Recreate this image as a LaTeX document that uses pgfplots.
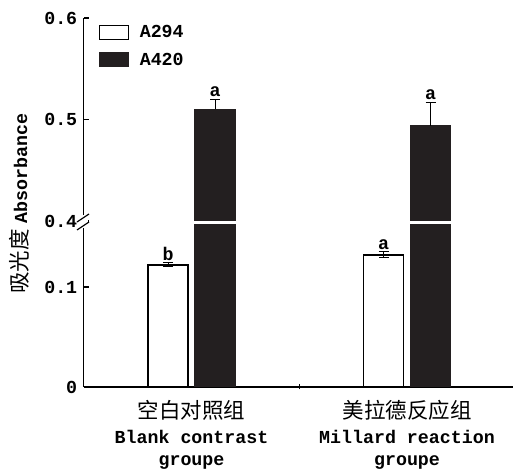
\documentclass[border=0pt]{standalone}
\usepackage{pgfplots}
\pgfplotsset{compat=1.18}
\usepackage{fontspec}
\setmainfont{Liberation Mono}
\newfontfamily\cjk{Noto Sans CJK SC}
\definecolor{barblack}{RGB}{35,31,32}

\newcommand{\lat}{\fontsize{18.3}{20}\selectfont\bfseries}
\newcommand{\han}{\cjk\fontsize{21.5}{24}\selectfont}

\pgfplotsset{
  brk/.style={
    scale only axis, width=431pt,
    xmin=-0.5, xmax=1.5,
    ybar, bar width=40pt,
    clip mode=individual,
    axis y line=left,
    tick align=inside, major tick length=5pt,
    tick style={line width=1.2pt, black},
    ticklabel style={font=\lat},
    /pgf/number format/assume math mode=true,
    yticklabel style={/pgf/number format/fixed, /pgf/number format/precision=1, xshift=-3pt},
    legend image code/.code={\draw[#1] (0pt,-7pt) rectangle (29pt,7pt); \path (38pt,0pt);},
  },
  whitebar/.style={draw=black, fill=white, line width=1.2pt, bar shift=-23.5pt,
    error bars/.cd, y dir=both, y explicit,
    error bar style={line width=1pt, black},
    error mark options={rotate=90, mark size=5pt, line width=1pt, black}},
  blackbar/.style={draw=barblack, fill=barblack, line width=1.2pt, bar shift=23.5pt,
    error bars/.cd, y dir=plus, y explicit,
    error bar style={line width=1pt, black},
    error mark options={rotate=90, mark size=5pt, line width=1pt, black}},
}

\begin{document}
\begin{tikzpicture}[x=1pt, y=1pt]
\useasboundingbox (0pt,0pt) rectangle (513pt,473pt);

% lower part, 0 to 0.162
\begin{axis}[brk,
  at={(83.75pt,86pt)}, anchor=south west, height=162pt,
  ymin=0, ymax=0.162,
  axis x line=bottom,
  xtick={0.5}, xticklabels={},
  ytick={0,0.1},
  axis line style={-, line width=1.2pt},
  x axis line style={-}, y axis line style={-},
]
\addplot+[whitebar] coordinates {(0,0.122) +- (0,0.002) (1,0.132) +- (0,0.003)};
\addplot+[blackbar] coordinates {(0,0.510) +- (0,0.010) (1,0.494) +- (0,0.023)};
\node[font=\lat, anchor=south, inner sep=2pt] at (axis cs:-0.109,0.124) {b};
\node[font=\lat, anchor=south, inner sep=2pt] at (axis cs:0.891,0.135) {a};
\node[font=\han] at (axis cs:0,0) [yshift=-23pt] {空白对照组};
\node[font=\lat] at (axis cs:0,0) [yshift=-50pt] {Blank contrast};
\node[font=\lat] at (axis cs:0,0) [yshift=-76pt] {groupe};
\node[font=\han] at (axis cs:1,0) [yshift=-23pt] {美拉德反应组};
\node[font=\lat] at (axis cs:1,0) [yshift=-50pt] {Millard reaction};
\node[font=\lat] at (axis cs:1,0) [yshift=-76pt] {groupe};
\end{axis}

% upper part, 0.4 to 0.6
\begin{axis}[brk,
  at={(83.75pt,252pt)}, anchor=south west, height=203pt,
  ymin=0.4, ymax=0.6,
  axis x line=none,
  xtick=\empty,
  ytick={0.4,0.5,0.6},
  axis line style={-, line width=1.2pt},
  y axis line style={-},
  legend style={draw=none, fill=none, font=\lat, at={(0.027,0.985)}, anchor=north west,
    row sep=10pt, legend cell align=left},
]
\addlegendimage{draw=black, fill=white, line width=1.2pt}
\addlegendentry{A294}
\addplot+[blackbar] coordinates {(0,0.510) +- (0,0.010) (1,0.494) +- (0,0.023)};
\addlegendentry{A420}
\node[font=\lat, anchor=south, inner sep=2pt] at (axis cs:0.109,0.520) {a};
\node[font=\lat, anchor=south, inner sep=2pt] at (axis cs:1.109,0.517) {a};
\end{axis}

% axis break mark
\fill[white] (80pt,245pt) rectangle (88pt,258pt);
\draw[line width=1.2pt] (77pt,243pt) -- (89pt,251pt);
\draw[line width=1.2pt] (77pt,251pt) -- (89pt,259pt);

\node[rotate=90] at (19pt,269.5pt) {{\han 吸光度} {\lat Absorbance}};
\end{tikzpicture}
\end{document}
